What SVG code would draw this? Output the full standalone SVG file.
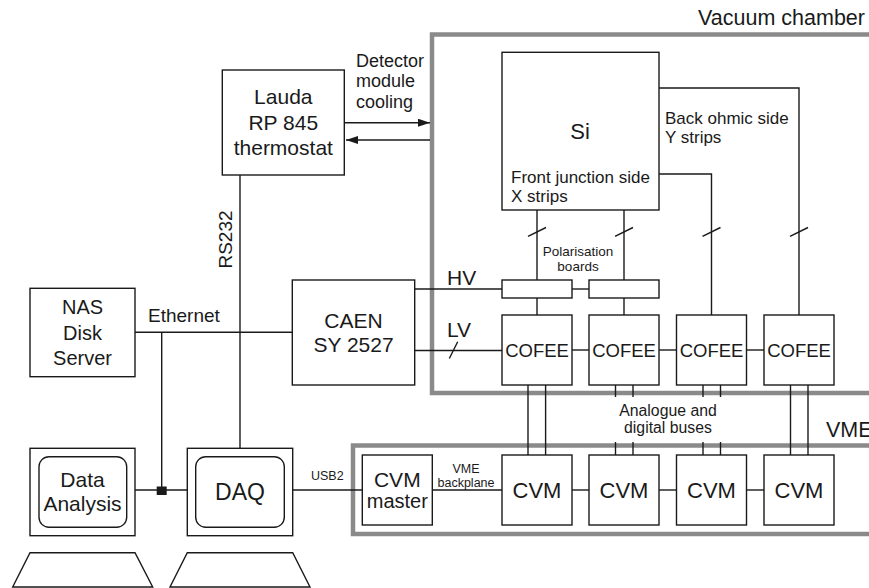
<svg xmlns="http://www.w3.org/2000/svg" width="869" height="588" viewBox="0 0 869 588">
<defs>
<style>
text{font-family:"Liberation Sans",Arial,Helvetica,sans-serif;fill:#1a1a1a}
.box{fill:#fff;stroke:#1a1a1a;stroke-width:1.4}
.ln{fill:none;stroke:#1a1a1a;stroke-width:1.4}
.frame{fill:none;stroke:#8a8a8a;stroke-width:4.5}
.c{text-anchor:middle}
</style>
<marker id="ah" viewBox="0 0 12 8" refX="12" refY="4" markerWidth="12" markerHeight="8" markerUnits="userSpaceOnUse" orient="auto">
<path d="M0,0 L12,4 L0,8 Z" fill="#1a1a1a"/>
</marker>
</defs>
<rect width="869" height="588" fill="#fff"/>

<g id="vacuum-chamber">
<rect class="frame" x="432" y="34.5" width="500" height="358.5"/>
<text x="865" y="25.3" font-size="21.5" text-anchor="end">Vacuum chamber</text>
</g>
<g id="vme-crate">
<rect class="frame" x="353" y="445.5" width="600" height="88.5"/>
<text x="826" y="436.7" font-size="21.5">VME</text>
</g>

<g id="connectors">
<!-- cooling -->
<line class="ln" x1="344.3" y1="122.7" x2="430" y2="122.7" marker-end="url(#ah)"/>
<line class="ln" x1="430" y1="140" x2="346" y2="140" marker-end="url(#ah)"/>
<!-- RS232 -->
<line class="ln" x1="240" y1="175" x2="240" y2="448.3"/>
<!-- Ethernet -->
<line class="ln" x1="135" y1="332.3" x2="292.3" y2="332.3"/>
<line class="ln" x1="161.7" y1="332.3" x2="161.7" y2="490"/>
<line class="ln" x1="135" y1="490" x2="187.3" y2="490"/>
<rect x="156.7" y="486.5" width="10" height="8.5" fill="#1a1a1a"/>
<!-- USB2 -->
<line class="ln" x1="292.7" y1="490" x2="362.3" y2="490"/>
<!-- HV / LV -->
<line class="ln" x1="414.7" y1="289" x2="502" y2="289"/>
<line class="ln" x1="572" y1="289" x2="589" y2="289"/>
<line class="ln" x1="414.7" y1="350.5" x2="502" y2="350.5"/>
<line class="ln" x1="449.3" y1="358.5" x2="457.7" y2="341.7"/>
<!-- Si to polarisation boards -->
<line class="ln" x1="537" y1="210" x2="537" y2="280"/>
<line class="ln" x1="624" y1="210" x2="624" y2="280"/>
<line class="ln" x1="537" y1="298" x2="537" y2="315"/>
<line class="ln" x1="624" y1="298" x2="624" y2="315"/>
<!-- back side to COFEE 3/4 -->
<polyline class="ln" points="659,88 799,88 799,315"/>
<polyline class="ln" points="659,174 711.5,174 711.5,315"/>
<!-- slashes -->
<line class="ln" x1="528" y1="236.3" x2="546" y2="227.5"/>
<line class="ln" x1="615" y1="236.3" x2="633" y2="227.5"/>
<line class="ln" x1="702.5" y1="236.3" x2="720.5" y2="227.5"/>
<line class="ln" x1="790" y1="236.3" x2="808" y2="227.5"/>
<!-- COFEE chain -->
<line class="ln" x1="572" y1="350" x2="589" y2="350"/>
<line class="ln" x1="659" y1="350" x2="676.5" y2="350"/>
<line class="ln" x1="746.5" y1="350" x2="764" y2="350"/>
<!-- buses -->
<line class="ln" x1="528" y1="385" x2="528" y2="455"/>
<line class="ln" x1="545.6" y1="385" x2="545.6" y2="455"/>
<line class="ln" x1="790.5" y1="385" x2="790.5" y2="455"/>
<line class="ln" x1="808" y1="385" x2="808" y2="455"/>
<line class="ln" x1="615.5" y1="385" x2="615.5" y2="397"/>
<line class="ln" x1="633" y1="385" x2="633" y2="397"/>
<line class="ln" x1="703" y1="385" x2="703" y2="397"/>
<line class="ln" x1="720.5" y1="385" x2="720.5" y2="397"/>
<line class="ln" x1="615.5" y1="442" x2="615.5" y2="455"/>
<line class="ln" x1="633" y1="442" x2="633" y2="455"/>
<line class="ln" x1="703" y1="442" x2="703" y2="455"/>
<line class="ln" x1="720.5" y1="442" x2="720.5" y2="455"/>
<!-- VME backplane -->
<line class="ln" x1="432.3" y1="490" x2="502" y2="490"/>
<line class="ln" x1="572" y1="490" x2="589" y2="490"/>
<line class="ln" x1="659" y1="490" x2="676.5" y2="490"/>
<line class="ln" x1="746.5" y1="490" x2="764" y2="490"/>
</g>

<g id="labels">
<text x="356" y="67.3" font-size="18">Detector</text>
<text x="356" y="86.7" font-size="18">module</text>
<text x="356" y="108" font-size="18">cooling</text>
<text transform="translate(232.3,239.5) rotate(-90)" font-size="19" class="c">RS232</text>
<text x="148" y="321.7" font-size="19">Ethernet</text>
<text x="447" y="285" font-size="21">HV</text>
<text x="447" y="336.7" font-size="21">LV</text>
<text x="578" y="256" font-size="13.5" class="c">Polarisation</text>
<text x="578" y="271" font-size="13.5" class="c">boards</text>
<text x="665" y="124" font-size="17">Back ohmic side</text>
<text x="665" y="143" font-size="17">Y strips</text>
<text x="668" y="416" font-size="15.8" class="c">Analogue and</text>
<text x="668" y="433" font-size="15.8" class="c">digital buses</text>
<text x="311" y="480" font-size="12.5">USB2</text>
<text x="466" y="472.7" font-size="12.5" class="c">VME</text>
<text x="466" y="486.7" font-size="12.5" class="c">backplane</text>
</g>

<g id="lauda">
<rect class="box" x="222.3" y="70" width="122" height="105"/>
<text x="283.3" y="104.3" font-size="21" class="c">Lauda</text>
<text x="283.3" y="130" font-size="21" class="c">RP 845</text>
<text x="283.3" y="155" font-size="21" class="c">thermostat</text>
</g>

<g id="si">
<rect class="box" x="502" y="52.3" width="157" height="157.7"/>
<text x="580" y="139.3" font-size="22" class="c">Si</text>
<text x="511" y="183" font-size="17">Front junction side</text>
<text x="511" y="202" font-size="17">X strips</text>
</g>

<g id="pol-board-1"><rect class="box" x="502" y="280" width="70" height="18"/></g>
<g id="pol-board-2"><rect class="box" x="589" y="280" width="70" height="18"/></g>

<g id="cofee-1"><rect class="box" x="502" y="315" width="70" height="70"/><text x="537" y="357" font-size="18.5" class="c">COFEE</text></g>
<g id="cofee-2"><rect class="box" x="589" y="315" width="70" height="70"/><text x="624" y="357" font-size="18.5" class="c">COFEE</text></g>
<g id="cofee-3"><rect class="box" x="676.5" y="315" width="70" height="70"/><text x="711.5" y="357" font-size="18.5" class="c">COFEE</text></g>
<g id="cofee-4"><rect class="box" x="764" y="315" width="70" height="70"/><text x="799" y="357" font-size="18.5" class="c">COFEE</text></g>

<g id="caen">
<rect class="box" x="292.3" y="280" width="122.4" height="105"/>
<text x="353.5" y="327.7" font-size="21" class="c">CAEN</text>
<text x="353.5" y="352.3" font-size="21" class="c">SY 2527</text>
</g>

<g id="nas">
<rect class="box" x="30" y="288.3" width="105" height="88.4"/>
<text x="82.5" y="314" font-size="20" class="c">NAS</text>
<text x="82.5" y="340" font-size="20" class="c">Disk</text>
<text x="82.5" y="365" font-size="20" class="c">Server</text>
</g>

<g id="data-analysis">
<rect class="box" x="30" y="448.3" width="105" height="87.4"/>
<rect class="box" x="39" y="456.7" width="87.7" height="70.6" rx="10"/>
<text x="82.5" y="486.7" font-size="21" class="c">Data</text>
<text x="82.5" y="510.7" font-size="21" class="c">Analysis</text>
<polygon class="box" points="30,552.7 135,552.7 152.7,587 12.7,587"/>
</g>

<g id="daq">
<rect class="box" x="187.3" y="448.3" width="105.4" height="87.4"/>
<rect class="box" x="195.7" y="456.7" width="88.6" height="70.6" rx="10"/>
<text x="240" y="500" font-size="23" class="c">DAQ</text>
<polygon class="box" points="187.3,552.7 292.7,552.7 310,587 170,587"/>
</g>

<g id="cvm-master">
<rect class="box" x="362.3" y="455" width="70" height="70"/>
<text x="397.3" y="486.7" font-size="21" class="c">CVM</text>
<text x="397.3" y="508.3" font-size="20" class="c">master</text>
</g>
<g id="cvm-1"><rect class="box" x="502" y="455" width="70" height="70"/><text x="537" y="497.5" font-size="22" class="c">CVM</text></g>
<g id="cvm-2"><rect class="box" x="589" y="455" width="70" height="70"/><text x="624" y="497.5" font-size="22" class="c">CVM</text></g>
<g id="cvm-3"><rect class="box" x="676.5" y="455" width="70" height="70"/><text x="711.5" y="497.5" font-size="22" class="c">CVM</text></g>
<g id="cvm-4"><rect class="box" x="764" y="455" width="70" height="70"/><text x="799" y="497.5" font-size="22" class="c">CVM</text></g>
</svg>
